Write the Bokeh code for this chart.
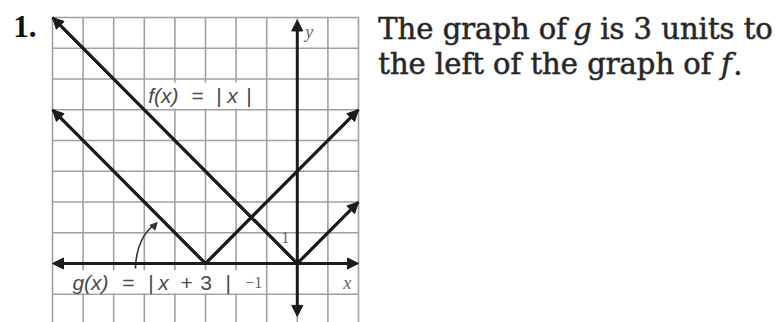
from bokeh.plotting import figure
from bokeh.models import Range1d, Arrow, NormalHead
from bokeh.core.properties import value
from bokeh.embed import file_html
from bokeh.resources import INLINE

# Grid extent (units)
grid_x = [-8, -7, -6, -5, -4, -3, -2, -1, 0, 1, 2]
grid_y = [-1, 0, 1, 2, 3, 4, 5, 6, 7, 8]

# f(x) = |x| : left end, vertex, right end
f_x = [-8, 0, 2]
f_y = [8, 0, 2]
# g(x) = |x + 3| : left end, vertex, right end
g_x = [-8, -3, 2]
g_y = [5, 0, 5]

# axis extents
x_axis = [-8, 2]
y_axis = [-1.72, 7.92]

INK = "#1c1c1c"
GRID = "#a0a0a0"

p = figure(width=782, height=322, output_backend="svg", toolbar_location=None,
           x_range=Range1d(-9.699, 15.857), y_range=Range1d(-1.919, 8.553),
           min_border=0, outline_line_color=None)
p.xaxis.visible = False
p.yaxis.visible = False
p.grid.visible = False
p.background_fill_color = "white"

# square grid
p.segment(x0=grid_x, y0=[-2.2] * len(grid_x), x1=grid_x, y1=[grid_y[-1]] * len(grid_x),
          line_color=GRID, line_width=1.6)
p.segment(x0=[grid_x[0]] * len(grid_y), y0=grid_y, x1=[grid_x[-1]] * len(grid_y), y1=grid_y,
          line_color=GRID, line_width=1.6)

# white boxes behind the equation labels
p.quad(left=[-4.97, -7.5], right=[-1.47, -1.1], bottom=[5.04, -0.97], top=[5.89, -0.22],
       fill_color="white", line_color=None)

def head():
    return NormalHead(size=11, fill_color=INK, line_color=INK, line_width=1)

# axes with arrows at both ends
p.add_layout(Arrow(start=head(), end=head(), x_start=x_axis[0], y_start=0, x_end=x_axis[1], y_end=0,
                   line_color=INK, line_width=3))
p.add_layout(Arrow(start=head(), end=head(), x_start=0, y_start=y_axis[0], x_end=0, y_end=y_axis[1],
                   line_color=INK, line_width=3))

# the two V-shaped graphs
for xs, ys in ((f_x, f_y), (g_x, g_y)):
    p.line(xs, ys, line_color=INK, line_width=3, line_join="miter")
    p.add_layout(Arrow(end=head(), x_start=xs[1], y_start=ys[1], x_end=xs[0], y_end=ys[0],
                       line_color=INK, line_width=3))
    p.add_layout(Arrow(end=head(), x_start=xs[1], y_start=ys[1], x_end=xs[2], y_end=ys[2],
                       line_color=INK, line_width=3))

# curved pointer from the g label to its graph
p.bezier(x0=[-5.29], y0=[-0.16], x1=[-4.64], y1=[1.27], cx0=[-5.27], cy0=[0.55], cx1=[-5.0], cy1=[1.05],
         line_color="#333333", line_width=1.6)
p.add_layout(Arrow(end=NormalHead(size=7, fill_color="#333333", line_color="#333333"),
                   x_start=-4.72, y_start=1.18, x_end=-4.58, y_end=1.33,
                   line_color="#333333", line_width=1.6))

LBL = "#4a4a4a"
SANS = value("Liberation Sans")
SERIF = value("Liberation Serif")

def txt(x, y, s, font=SANS, size="21px", style="normal", color=LBL, align="left",
        baseline="middle", outline=None):
    p.text(x=[x], y=[y], text=[s], text_font=font, text_font_size=size, text_font_style=style,
           text_color=color, text_align=align, text_baseline=baseline,
           text_outline_color=outline)

# f(x) = |x|
txt(-4.87, 5.46, "f(x)", style="italic")
txt(-3.46, 5.46, "=")
txt(-2.65, 5.46, "|")
txt(-2.29, 5.46, "x", style="italic")
txt(-1.67, 5.46, "|")

# g(x) = |x + 3|
txt(-7.35, -0.62, "g(x)", style="italic")
txt(-5.72, -0.62, "=")
txt(-4.87, -0.62, "|")
txt(-4.54, -0.62, "x", style="italic")
txt(-3.82, -0.62, "+")
txt(-3.17, -0.62, "3")
txt(-2.35, -0.62, "|")

# axis tick labels and names
txt(-1.70, -0.62, "\u22121", font=SERIF, size="16px", color="#666666")
txt(-0.39, 0.85, "1", font=SERIF, size="16px", color="#666666", align="center")
txt(1.63, -0.62, "x", font=SERIF, size="18px", style="italic", color="#666666", align="center")
txt(0.39, 7.54, "y", font=SERIF, size="18px", style="italic", color="#666666", align="center")

# exercise number
txt(-9.28, 7.71, "1.", font=SERIF, size="31px", style="bold", color="#111111")

# explanation text
BODY = value("DejaVu Serif")
TC = "#262626"
OUT = "rgba(38,38,38,0.55)"
txt(2.647, 7.64, "The graph of", font=BODY, size="29px", color=TC, outline=OUT)
txt(9.02, 7.64, "g", font=BODY, size="29px", style="italic", color=TC, outline=OUT)
txt(9.90, 7.64, "is 3 units to", font=BODY, size="29px", color=TC, outline=OUT)
txt(2.647, 6.50, "the left of the graph of", font=BODY, size="29px", color=TC, outline=OUT)
txt(13.85, 6.50, "f", font=BODY, size="29px", style="italic", color=TC, outline=OUT)
txt(14.25, 6.50, ".", font=BODY, size="29px", color=TC, outline=OUT)

open("out.html", "w").write(file_html(p, INLINE))
